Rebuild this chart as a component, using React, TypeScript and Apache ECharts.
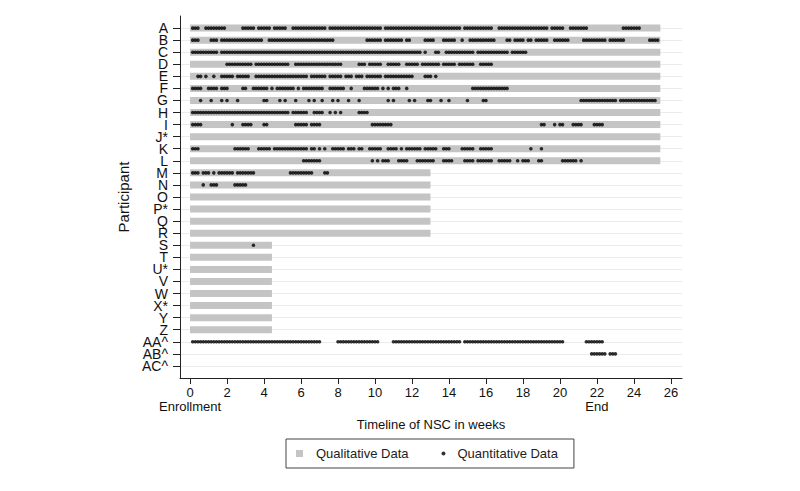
import React, { useEffect, useRef } from 'react';
import * as echarts from 'echarts';

// ---- Data (days since enrollment) ----
const participants = [
  'A', 'B', 'C', 'D', 'E', 'F', 'G', 'H', 'I', 'J*', 'K', 'L', 'M', 'N', 'O', 'P*', 'Q', 'R',
  'S', 'T', 'U*', 'V', 'W', 'X*', 'Y', 'Z', 'AA^', 'AB^', 'AC^',
];

// end of qualitative data period (days), null = none
const qualitativeEndDay = [
  178, 178, 178, 178, 178, 178, 178, 178, 178, 178, 178, 178,
  91, 91, 91, 91, 91, 91,
  31, 31, 31, 31, 31, 31, 31, 31,
  null, null, null,
];

// quantitative data: runs of daily observations [firstDay, lastDay]
const runsA = [[1, 3], [6, 13], [20, 24], [26, 30], [32, 36], [39, 51], [53, 72], [74, 102], [104, 114], [117, 135], [137, 141], [144, 150], [164, 170]];
const runsB = [[1, 3], [8, 10], [12, 27], [30, 54], [67, 72], [74, 80], [82, 83], [89, 92], [96, 100], [103, 103], [106, 115], [120, 121], [123, 126], [128, 129], [131, 135], [138, 143], [149, 157], [159, 164], [174, 177]];
const runsC = [[1, 10], [12, 87], [89, 89], [93, 94], [97, 107], [109, 120], [122, 127]];
const runsD = [[14, 23], [25, 37], [40, 57], [64, 66], [68, 72], [75, 79], [82, 86], [88, 94], [96, 100], [102, 107], [110, 114]];
const runsE = [[3, 4], [6, 6], [9, 9], [12, 16], [18, 22], [25, 44], [46, 51], [53, 57], [59, 61], [63, 65], [67, 72], [74, 84], [89, 91], [93, 93]];
const runsF = [[1, 4], [7, 10], [12, 14], [20, 21], [24, 29], [31, 31], [33, 39], [41, 41], [43, 50], [53, 58], [61, 61], [66, 71], [73, 73], [75, 75], [77, 79], [82, 82], [107, 120]];
const runsG = [[4, 4], [8, 8], [12, 12], [14, 14], [18, 18], [28, 29], [34, 34], [36, 36], [40, 40], [45, 45], [47, 47], [50, 50], [54, 54], [56, 56], [60, 60], [64, 64], [75, 75], [77, 77], [83, 83], [85, 85], [90, 91], [95, 95], [98, 98], [105, 105], [111, 112], [148, 161], [163, 176]];
const runsH = [[1, 37], [39, 44], [47, 50], [53, 53], [55, 55], [57, 57], [64, 67]];
const runsI = [[1, 4], [16, 16], [20, 23], [28, 29], [40, 44], [46, 49], [69, 76], [133, 134], [138, 138], [140, 141], [145, 148], [153, 156]];
const runsJ: number[][] = [];
const runsK = [[1, 3], [17, 22], [26, 30], [32, 44], [46, 47], [49, 49], [51, 51], [54, 58], [60, 62], [64, 65], [68, 72], [75, 78], [80, 80], [82, 87], [89, 93], [96, 98], [103, 107], [110, 114], [129, 129], [133, 133]];
const runsL = [[43, 49], [69, 69], [71, 71], [73, 75], [79, 82], [86, 92], [96, 99], [104, 107], [109, 114], [117, 121], [124, 124], [126, 128], [132, 133], [141, 146], [148, 148]];
const runsM = [[1, 3], [5, 7], [9, 9], [11, 16], [18, 24], [38, 46], [51, 52]];
const runsN = [[5, 5], [8, 10], [17, 21]];
const runsS = [[24, 24]];
const runsAA = [[1, 49], [56, 71], [77, 102], [104, 141], [150, 156]];
const runsAB = [[152, 157], [159, 161]];

const quantitativeRuns: number[][][] = [
  runsA, runsB, runsC, runsD, runsE, runsF, runsG, runsH, runsI, runsJ, runsK, runsL, runsM, runsN,
  [], [], [], [], runsS, [], [], [], [], [], [], [], runsAA, runsAB, [],
];

const weekTicks = [0, 2, 4, 6, 8, 10, 12, 14, 16, 18, 20, 22, 24, 26];
const milestoneWeeks = [0, 22];
const milestoneLabels = ['Enrollment', 'End'];

const FONT = '"Liberation Sans", Arial, Helvetica, sans-serif';

export default function App() {
  const ref = useRef<HTMLDivElement>(null);

  useEffect(() => {
    if (!ref.current) return;
    const chart = echarts.init(ref.current, undefined, { renderer: 'svg' });

    // y categories padded with one empty slot at each end (axis margin)
    const yCategories = [' ', ...participants, '  '];
    const lastIdx = yCategories.length - 1;
    const inner = (i: number) => i > 0 && i < lastIdx;

    const qualData: (number | string)[][] = [];
    qualitativeEndDay.forEach((end, row) => {
      if (end != null) qualData.push([0, end, participants[row]]);
    });

    const quantData: (number | string)[][] = [];
    quantitativeRuns.forEach((runs, row) => {
      runs.forEach(([a, b]) => {
        for (let d = a; d <= b; d++) quantData.push([d, participants[row]]);
      });
    });

    chart.setOption({
      animation: false,
      backgroundColor: '#ffffff',
      textStyle: { fontFamily: FONT },
      grid: { left: 180, right: 118, top: 16, bottom: 113, containLabel: false },
      legend: {
        left: 286,
        top: 439,
        orient: 'horizontal',
        padding: [8, 16, 8, 5],
        itemGap: 24,
        itemWidth: 20,
        itemHeight: 8,
        borderColor: '#444',
        borderWidth: 1,
        selectedMode: false,
        textStyle: { fontSize: 13, color: '#222', fontFamily: FONT },
        data: [
          { name: 'Qualitative Data', icon: 'path://M0,0 M20,8 M5,0.5 L12,0.5 L12,7.5 L5,7.5 Z' },
          { name: 'Quantitative Data', icon: 'path://M0,0 M20,8 M9,4 A2,2 0 1,0 13,4 A2,2 0 1,0 9,4 Z' },
        ],
      },
      xAxis: {
        type: 'value',
        min: -3.8,
        max: 186.2,
        name: 'Timeline of NSC in weeks',
        nameLocation: 'middle',
        nameGap: 30,
        nameTextStyle: { fontSize: 13, color: '#111', fontFamily: FONT },
        axisLine: { show: true, onZero: false, lineStyle: { color: '#222', width: 1 } },
        axisTick: { show: true, length: 6, customValues: weekTicks.map((w) => w * 7), lineStyle: { color: '#222' } },
        axisLabel: {
          customValues: weekTicks.map((w) => w * 7),
          fontSize: 13,
          color: '#111',
          margin: 7,
          lineHeight: 14,
          fontFamily: FONT,
          formatter: (v: number) => {
            const w = Math.round(v / 7);
            const k = milestoneWeeks.indexOf(w);
            return k >= 0 ? `${w}\n${milestoneLabels[k]}` : `${w}`;
          },
        },
        splitLine: { show: false },
      },
      yAxis: {
        type: 'category',
        data: yCategories,
        inverse: true,
        boundaryGap: false,
        name: 'Participant',
        nameLocation: 'middle',
        nameGap: 46,
        nameTextStyle: { fontSize: 15, color: '#111', fontFamily: FONT },
        axisLine: { show: true, onZero: false, lineStyle: { color: '#222', width: 1 } },
        axisTick: { show: true, length: 7, interval: (i: number) => inner(i), lineStyle: { color: '#222' } },
        axisLabel: {
          interval: 0,
          fontSize: 14,
          color: '#111',
          margin: 12,
          fontFamily: FONT,
        },
        splitLine: { show: true, interval: (i: number) => inner(i), lineStyle: { color: '#ebebeb', width: 1 } },
      },
      series: [
        {
          name: 'Qualitative Data',
          type: 'custom',
          itemStyle: { color: '#c4c4c4' },
          encode: { x: [0, 1], y: 2 },
          data: qualData,
          z: 2,
          renderItem: (params: any, api: any) => {
            const row = api.value(2);
            const s = api.coord([api.value(0), row]);
            const e = api.coord([api.value(1), row]);
            return {
              type: 'rect',
              shape: { x: s[0], y: s[1] - 3.5, width: e[0] - s[0], height: 7 },
              style: { fill: '#c4c4c4' },
            };
          },
        },
        {
          name: 'Quantitative Data',
          type: 'scatter',
          symbol: 'circle',
          symbolSize: 3.6,
          itemStyle: { color: '#000000' },
          data: quantData,
          z: 3,
        },
      ],
    });

    return () => chart.dispose();
  }, []);

  return (
    <div
      ref={ref}
      style={{ position: 'fixed', left: 0, top: 0, width: 800, height: 491, background: '#fff' }}
    />
  );
}
